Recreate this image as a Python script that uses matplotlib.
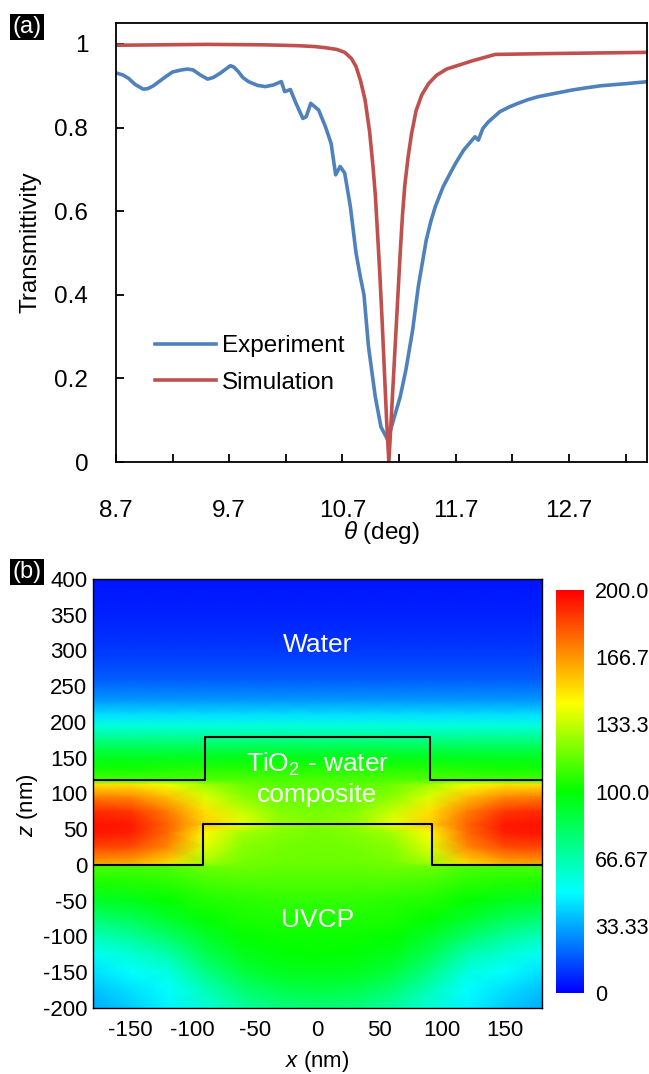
import numpy as np
import matplotlib
matplotlib.use('Agg')
import matplotlib.pyplot as plt
from matplotlib.colors import LinearSegmentedColormap

plt.rcParams['font.family'] = ['Liberation Sans', 'DejaVu Sans']
plt.rcParams['mathtext.fontset'] = 'custom'
plt.rcParams['mathtext.rm'] = 'Liberation Sans'
plt.rcParams['mathtext.it'] = 'Liberation Sans:italic'
plt.rcParams['axes.unicode_minus'] = False

# ---- panel (a): transmittivity vs angle ----
theta_exp = [8.71, 8.76, 8.81, 8.87, 8.94, 8.98, 9.03, 9.08, 9.14, 9.20, 9.28, 9.33, 9.38,
             9.45, 9.51, 9.56, 9.62, 9.67, 9.71, 9.74, 9.78, 9.82, 9.87, 9.95,
             10.02, 10.09, 10.16, 10.19, 10.24, 10.29, 10.35, 10.38, 10.42, 10.49, 10.55,
             10.60, 10.64, 10.68, 10.72, 10.77, 10.82, 10.86, 10.89, 10.93, 10.99,
             11.04, 11.10, 11.15, 11.21, 11.26, 11.32, 11.37, 11.44, 11.48, 11.52, 11.59,
             11.65, 11.70, 11.77, 11.82, 11.87, 11.90, 11.94, 11.99, 12.09, 12.17, 12.25,
             12.34, 12.43, 12.58, 12.73, 12.85, 12.98, 13.20, 13.40]
T_exp = [0.930, 0.926, 0.918, 0.903, 0.892, 0.893, 0.900, 0.910, 0.922, 0.933, 0.938,
         0.940, 0.938, 0.925, 0.916, 0.920, 0.930, 0.940, 0.948, 0.945, 0.934, 0.920,
         0.910, 0.901, 0.898, 0.902, 0.910, 0.886, 0.891, 0.858, 0.822, 0.826, 0.858,
         0.842, 0.802, 0.762, 0.687, 0.707, 0.691, 0.611, 0.500, 0.440, 0.400, 0.276,
         0.156, 0.084, 0.053, 0.100, 0.156, 0.220, 0.316, 0.420, 0.531, 0.575, 0.611,
         0.659, 0.690, 0.715, 0.746, 0.762, 0.778, 0.770, 0.798, 0.814, 0.838, 0.849,
         0.858, 0.867, 0.874, 0.882, 0.890, 0.895, 0.900, 0.905, 0.910]

theta_sim = [8.70, 9.50, 10.00, 10.30, 10.45, 10.55, 10.65, 10.72, 10.78, 10.82, 10.86,
             10.90, 10.94, 10.97, 10.99, 11.01, 11.03, 11.05, 11.07, 11.09, 11.11,
             11.13, 11.15, 11.17, 11.19, 11.21, 11.23, 11.25, 11.28, 11.31, 11.35,
             11.40, 11.46, 11.53, 11.62, 11.70, 11.85, 12.05, 12.50, 13.40]
T_sim = [0.997, 0.999, 0.998, 0.996, 0.994, 0.991, 0.987, 0.980, 0.965, 0.946, 0.912,
         0.866, 0.790, 0.706, 0.640, 0.547, 0.450, 0.340, 0.220, 0.100, 0.0,
         0.100, 0.200, 0.300, 0.400, 0.500, 0.590, 0.660, 0.730, 0.785, 0.840,
         0.878, 0.905, 0.925, 0.940, 0.947, 0.960, 0.975, 0.977, 0.980]

# ---- panel (b): field map ----
x_nm = [-180, -150, -120, -90, -60, -30, 0, 30, 60, 90, 120, 150, 180]
z_nm = [400, 350, 300, 260, 230, 210, 195, 180, 165, 150, 135, 119, 112, 95, 75, 57,
        45, 25, 3, -3, -25, -50, -75, -100, -125, -150, -175, -200]
field = [
    [4, 4, 4, 4, 4, 4, 4, 4, 4, 4, 4, 4, 4],
    [7, 7, 7, 7, 7, 7, 7, 7, 7, 7, 7, 7, 7],
    [11, 11, 11, 11, 11, 11, 11, 11, 11, 11, 11, 11, 11],
    [18, 18, 18, 18, 18, 18, 18, 18, 18, 18, 18, 18, 18],
    [30, 30, 30, 30, 30, 30, 30, 30, 30, 30, 30, 30, 30],
    [44, 44, 44, 44, 44, 44, 44, 44, 44, 44, 44, 44, 44],
    [57, 57, 57, 57, 57, 57, 57, 57, 57, 57, 57, 57, 57],
    [70, 70, 70, 70, 70, 70, 70, 70, 70, 70, 70, 70, 70],
    [83, 83, 83, 83, 84, 84, 84, 84, 84, 83, 83, 83, 83],
    [94, 94, 94, 95, 96, 96, 96, 96, 96, 95, 94, 94, 94],
    [103, 103, 104, 106, 106, 106, 106, 106, 106, 106, 104, 103, 103],
    [112, 112, 112, 114, 114, 113, 113, 113, 114, 114, 112, 112, 112],
    [150, 150, 142, 128, 118, 115, 115, 115, 118, 128, 142, 150, 150],
    [172, 170, 158, 138, 124, 118, 117, 118, 124, 138, 158, 170, 172],
    [190, 188, 172, 150, 134, 122, 120, 122, 134, 150, 172, 188, 190],
    [196, 194, 178, 154, 140, 126, 123, 126, 140, 154, 178, 194, 196],
    [195, 193, 176, 145, 128, 122, 120, 122, 128, 145, 176, 193, 195],
    [185, 183, 170, 138, 123, 120, 119, 120, 123, 138, 170, 183, 185],
    [165, 163, 152, 128, 120, 118, 118, 118, 120, 128, 152, 163, 165],
    [112, 112, 113, 118, 118, 117, 117, 117, 118, 118, 113, 112, 112],
    [104, 105, 107, 111, 113, 113, 113, 113, 113, 111, 107, 105, 104],
    [92, 95, 100, 105, 107, 108, 108, 108, 107, 105, 100, 95, 92],
    [78, 83, 92, 100, 104, 105, 105, 105, 104, 100, 92, 83, 78],
    [64, 70, 80, 92, 100, 102, 102, 102, 100, 92, 80, 70, 64],
    [52, 58, 66, 84, 95, 99, 100, 99, 95, 84, 66, 58, 52],
    [44, 50, 56, 74, 88, 94, 95, 94, 88, 74, 56, 50, 44],
    [38, 44, 50, 64, 78, 85, 87, 85, 78, 64, 50, 44, 38],
    [34, 40, 48, 58, 68, 75, 77, 75, 68, 58, 48, 40, 34],
]

# interfaces of the grating
upper_x = [-180, -90, -90, 90, 90, 180]
upper_z = [119, 119, 179, 179, 119, 119]
lower_x = [-180, -92, -92, 92, 92, 180]
lower_z = [0, 0, 57, 57, 0, 0]

cbar_ticks = [0, 33.33, 66.67, 100, 133.3, 166.7, 200]
cbar_labels = ['0', '33.33', '66.67', '100.0', '133.3', '166.7', '200.0']

blue = '#4F81BD'
red = '#C0504D'

fig = plt.figure(figsize=(6.49, 10.74), dpi=100)

ax = fig.add_axes([0.1787, 0.5698, 0.8183, 0.4091])
ax.plot(theta_exp, T_exp, color=blue, lw=2.6, label='Experiment')
ax.plot(theta_sim, T_sim, color=red, lw=2.6, label='Simulation')
ax.set_xlim(8.7, 13.39)
ax.set_ylim(0, 1.051)
ax.set_xticks(np.arange(8.7, 13.3, 0.5))
ax.set_xticklabels(['8.7', '', '9.7', '', '10.7', '', '11.7', '', '12.7', ''])
ax.set_yticks([0, 0.2, 0.4, 0.6, 0.8, 1.0])
ax.set_yticklabels(['0', '0.2', '0.4', '0.6', '0.8', '1'])
ax.tick_params(axis='x', direction='in', length=6, width=1.3, pad=27, labelsize=17.5)
ax.tick_params(axis='y', direction='in', length=6, width=1.3, pad=20, labelsize=17.5)
for s in ax.spines.values():
    s.set_linewidth(1.3)
ax.legend(loc='lower left', bbox_to_anchor=(0.073, 0.155), frameon=False, fontsize=17.5,
          borderpad=0, borderaxespad=0, handlelength=2.5, handletextpad=0.25,
          labelspacing=0.6)
fig.text(30 / 649, 1 - 242 / 1074, 'Transmittivity', rotation=90, ha='center', va='center',
         fontsize=17.5)
fig.text(381 / 649, 1 - 533 / 1074, r'$\theta$ (deg)', ha='center', va='center', fontsize=17.5)

cmap = LinearSegmentedColormap.from_list('field', [
    (0.0, (0, 0, 1)), (0.25, (0, 1, 1)), (0.5, (0, 1, 0)), (0.72, (1, 1, 0)), (1.0, (1, 0, 0))])

axb = fig.add_axes([0.1433, 0.0615, 0.6918, 0.3994])
mesh = axb.pcolormesh(x_nm, z_nm, np.array(field, dtype=float), cmap=cmap, vmin=0, vmax=200,
                      shading='gouraud')
axb.plot(upper_x, upper_z, color='black', lw=1.5)
axb.plot(lower_x, lower_z, color='black', lw=1.5)
axb.set_xlim(-180, 180)
axb.set_ylim(-200, 400)
axb.set_xticks([-150, -100, -50, 0, 50, 100, 150])
axb.set_yticks(np.arange(-200, 401, 50))
axb.tick_params(length=0, labelsize=16)
axb.tick_params(axis='y', pad=4)
axb.tick_params(axis='x', pad=9)
for s in axb.spines.values():
    s.set_linewidth(1.0)
axb.text(0, 308, 'Water', color='white', fontsize=19, ha='center', va='center')
axb.text(0, 140, 'TiO$_2$ - water', color='white', fontsize=19, ha='center', va='center')
axb.text(0, 98, 'composite', color='white', fontsize=19, ha='center', va='center')
axb.text(0, -77, 'UVCP', color='white', fontsize=19, ha='center', va='center')
fig.text(27 / 649, 1 - 805 / 1074, '$z$ (nm)', rotation=90, ha='center', va='center', fontsize=16)
fig.text(317 / 649, 1 - 1062 / 1074, '$x$ (nm)', ha='center', va='center', fontsize=16)

cax = fig.add_axes([0.8567, 0.0754, 0.0431, 0.3752])
cb = fig.colorbar(mesh, cax=cax, ticks=cbar_ticks)
cb.ax.set_yticklabels(cbar_labels)
cb.outline.set_visible(False)
cb.ax.tick_params(length=0, labelsize=15.5, pad=8)

for label, yc in [('(a)', 27), ('(b)', 572)]:
    fig.text(27 / 649, 1 - yc / 1074, label, color='white', fontsize=17, ha='center',
             va='center', bbox=dict(facecolor='black', edgecolor='none', pad=1.5))

fig.savefig('out.png', dpi=100)
